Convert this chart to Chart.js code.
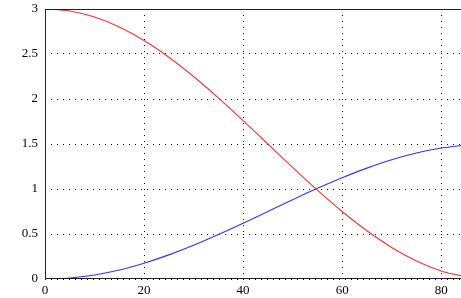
<!DOCTYPE html>
<html>
<head>
<meta charset="utf-8">
<script src="https://cdn.jsdelivr.net/npm/chart.js@4/dist/chart.umd.min.js"></script>
<style>
  html, body { margin: 0; padding: 0; background: #fff; }
  #wrap { width: 461px; height: 298px; position: relative; }
</style>
</head>
<body>
<div id="wrap"><canvas id="grafico"></canvas></div>
<script>
// valores
const xValores = [0, 5, 10, 15, 20, 25, 30, 35, 40, 45, 50, 55, 60, 65, 70, 75, 80, 85];
const serieRoja = [3, 2.977, 2.91, 2.799, 2.649, 2.464, 2.25, 2.013, 1.76, 1.5, 1.24, 0.987, 0.75, 0.536, 0.351, 0.201, 0.09, 0.023];
const serieAzul = [0, 0.011, 0.045, 0.1, 0.176, 0.268, 0.375, 0.494, 0.62, 0.75, 0.88, 1.007, 1.125, 1.232, 1.325, 1.4, 1.455, 1.489];
const xTicks = [0, 20, 40, 60, 80];
const yTicks = [0, 0.5, 1, 1.5, 2, 2.5, 3];

const puntos = (ys) => xValores.map((x, i) => ({ x: x, y: ys[i] }));
const fuente = { family: "'Liberation Serif', 'Times New Roman', serif", size: 13 };

// marco: linea solida arriba, izquierda y abajo
const marco = {
    id: 'marco',
    afterDraw(chart) {
        const { ctx, chartArea } = chart;
        ctx.save();
        ctx.strokeStyle = '#222';
        ctx.lineWidth = 1;
        ctx.beginPath();
        ctx.moveTo(chartArea.right, chartArea.top + 0.5);
        ctx.lineTo(chartArea.left + 0.5, chartArea.top + 0.5);
        ctx.lineTo(chartArea.left + 0.5, chartArea.bottom - 0.5);
        ctx.lineTo(chartArea.right, chartArea.bottom - 0.5);
        ctx.stroke();
        ctx.restore();
    }
};

const ctx = document.getElementById('grafico').getContext('2d');
new Chart(ctx, {
    type: 'line',
    data: {
        datasets: [{
            data: puntos(serieRoja),
            borderColor: '#ee3333',
            borderWidth: 1.1,
            pointRadius: 0,
            cubicInterpolationMode: 'monotone',
            fill: false
        }, {
            data: puntos(serieAzul),
            borderColor: '#3333ee',
            borderWidth: 1.1,
            pointRadius: 0,
            cubicInterpolationMode: 'monotone',
            fill: false
        }]
    },
    options: {
        responsive: true,
        maintainAspectRatio: false,
        animation: false,
        layout: { padding: { top: 9, right: 0, left: 0, bottom: 0 } },
        plugins: {
            legend: { display: false },
            tooltip: { enabled: false }
        },
        scales: {
            x: {
                type: 'linear',
                min: 0,
                max: 84,
                afterBuildTicks: (scale) => { scale.ticks = xTicks.map(v => ({ value: v })); },
                afterFit: (scale) => {
                    scale.height = 19;
                    scale.paddingLeft = 0;
                    scale.paddingRight = 0;
                },
                ticks: {
                    color: '#000',
                    padding: 4,
                    maxRotation: 0,
                    font: fuente,
                    callback: (v) => String(v)
                },
                grid: { color: '#000', lineWidth: 1, drawTicks: false },
                border: { display: false, dash: [1, 5] }
            },
            y: {
                type: 'linear',
                min: 0,
                max: 3,
                afterBuildTicks: (scale) => { scale.ticks = yTicks.map(v => ({ value: v })); },
                afterFit: (scale) => {
                    scale.width = 45;
                    scale.paddingTop = 0;
                    scale.paddingBottom = 0;
                },
                ticks: {
                    color: '#000',
                    padding: 7,
                    font: fuente,
                    callback: (v) => String(v)
                },
                grid: { color: '#000', lineWidth: 1, drawTicks: false },
                border: { display: false, dash: [1, 5] }
            }
        }
    },
    plugins: [marco]
});
</script>
</body>
</html>
